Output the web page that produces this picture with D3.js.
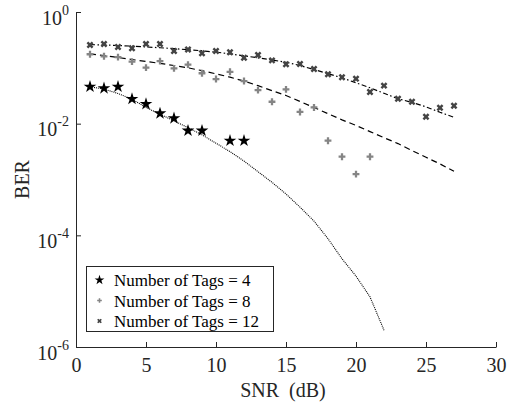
<!DOCTYPE html>
<html>
<head>
<meta charset="utf-8">
<script src="https://cdn.jsdelivr.net/npm/d3@7"></script>
<style>
  body { margin: 0; background: #fff; }
  svg { display: block; font-family: "Liberation Serif", "Times New Roman", serif; }
</style>
</head>
<body>
<svg id="chart"></svg>
<script>
// measured points
const snr4 = [1, 2, 3, 4, 5, 6, 7, 8, 9, 11, 12];
const ber4 = [0.0459, 0.043, 0.0459, 0.0277, 0.0225, 0.0153, 0.0125, 0.0075, 0.0075, 0.00495, 0.00495];

const snr8 = [1, 2, 3, 4, 5, 6, 7, 8, 9, 10, 11, 12, 13, 14, 15, 16, 17, 18, 19, 20, 21];
const ber8 = [0.175, 0.161, 0.156, 0.129, 0.101, 0.132, 0.098, 0.114, 0.080, 0.063, 0.085,
  0.058, 0.040, 0.0247, 0.041, 0.0162, 0.0195, 0.00495, 0.00256, 0.00125, 0.00256];

const snr12 = [1, 2, 3, 4, 5, 6, 7, 8, 9, 10, 11, 12, 13, 14, 15, 16, 17, 18, 19, 20, 21, 22, 23, 24, 25, 26, 27];
const ber12 = [0.256, 0.267, 0.236, 0.224, 0.267, 0.267, 0.200, 0.213, 0.182, 0.200, 0.190,
  0.152, 0.170, 0.136, 0.116, 0.117, 0.095, 0.077, 0.068, 0.064, 0.037, 0.048, 0.028,
  0.0247, 0.0133, 0.0193, 0.021];

// fitted / theory curves
const curveSnr4 = [1, 2, 3, 4, 5, 6, 7, 8, 9, 10, 11, 12, 13, 14, 15, 16, 17, 18, 19, 20, 21, 22];
const curveBer4 = [0.0457, 0.0417, 0.0347, 0.0275, 0.0195, 0.0148, 0.0112, 0.0085, 0.0063, 0.00447,
  0.00316, 0.00214, 0.00138, 8.9e-4, 5.5e-4, 3.2e-4, 1.8e-4, 8.7e-5, 3.8e-5, 1.86e-5, 7.9e-6, 2.0e-6];

const curveSnr8 = [1, 2, 3, 4, 5, 6, 7, 8, 9, 10, 11, 12, 13, 14, 15, 16, 17, 18, 19, 20, 21, 22, 23, 24, 25, 26, 27];
const curveBer8 = [0.178, 0.166, 0.153, 0.141, 0.130, 0.120, 0.110, 0.100, 0.089, 0.078, 0.068, 0.058,
  0.048, 0.039, 0.032, 0.025, 0.0195, 0.0151, 0.0117, 0.0093, 0.0072, 0.0056, 0.0044, 0.0033,
  0.0025, 0.0019, 0.0014];

const curveSnr12 = [1, 2, 3, 4, 5, 6, 7, 8, 9, 10, 11, 12, 13, 14, 15, 16, 17, 18, 19, 20, 21, 22, 23, 24, 25, 26, 27];
const curveBer12 = [0.260, 0.257, 0.251, 0.245, 0.237, 0.229, 0.221, 0.211, 0.202, 0.191, 0.178, 0.164,
  0.151, 0.138, 0.126, 0.110, 0.093, 0.079, 0.066, 0.054, 0.044, 0.035, 0.028, 0.024,
  0.020, 0.016, 0.013];

const legendLabels = ['Number of Tags = 4', 'Number of Tags = 8', 'Number of Tags = 12'];
const xTicks = [0, 5, 10, 15, 20, 25, 30];
const yTicks = [1, 1e-2, 1e-4, 1e-6];
const yTickExp = ['0', '-2', '-4', '-6'];

const width = 514, height = 404;
const margin = { top: 12, right: 18, bottom: 57, left: 76 };
const axisColor = '#262626';

const svg = d3.select('#chart').attr('width', width).attr('height', height);
svg.append('rect').attr('width', width).attr('height', height).attr('fill', '#fff');

const x = d3.scaleLinear().domain([0, 30]).range([margin.left, width - margin.right]);
const y = d3.scaleLog().domain([1e-6, 1]).range([height - margin.bottom, margin.top]);

// axes (ticks point inward, no box)
const xAxis = svg.append('g')
  .attr('transform', `translate(0,${height - margin.bottom})`)
  .call(d3.axisBottom(x).tickValues(xTicks).tickSizeInner(-5).tickSizeOuter(0).tickFormat(d3.format('d')));
xAxis.select('.domain').attr('stroke', axisColor);
xAxis.selectAll('.tick line').attr('stroke', axisColor);
xAxis.selectAll('.tick text')
  .attr('y', 25).attr('dy', null)
  .attr('fill', axisColor)
  .style('font-size', '20px')
  .style('font-family', '"Liberation Serif", serif');

const yAxis = svg.append('g')
  .attr('transform', `translate(${margin.left},0)`)
  .call(d3.axisLeft(y).tickValues(yTicks).tickSizeInner(-5).tickSizeOuter(0).tickFormat(''));
yAxis.select('.domain').attr('stroke', axisColor);
yAxis.selectAll('.tick line').attr('stroke', axisColor);
yAxis.selectAll('.tick text').remove();

yTicks.forEach((t, i) => {
  const label = svg.append('text')
    .attr('x', margin.left - 7)
    .attr('y', y(t) + 12.5)
    .attr('text-anchor', 'end')
    .attr('fill', axisColor)
    .style('font-size', '20px');
  label.append('tspan').text('10');
  label.append('tspan')
    .attr('dy', -10)
    .style('font-size', '14px')
    .text(yTickExp[i]);
});

svg.append('text')
  .attr('x', (margin.left + width - margin.right) / 2 - 3)
  .attr('y', 397)
  .attr('text-anchor', 'middle')
  .attr('fill', axisColor)
  .style('font-size', '20px')
  .style('white-space', 'pre')
  .text('SNR\u00a0 (dB)');

svg.append('text')
  .attr('transform', `translate(29,${(margin.top + height - margin.bottom) / 2}) rotate(-90)`)
  .attr('text-anchor', 'middle')
  .attr('fill', axisColor)
  .style('font-size', '20px')
  .text('BER');

// curves
const line = d3.line().x(d => x(d[0])).y(d => y(d[1]));

svg.append('path')
  .datum(d3.zip(curveSnr4, curveBer4))
  .attr('d', line)
  .attr('fill', 'none').attr('stroke', '#000').attr('stroke-width', 1.1)
  .attr('stroke-dasharray', '1,1');

svg.append('path')
  .datum(d3.zip(curveSnr8, curveBer8))
  .attr('d', line)
  .attr('fill', 'none').attr('stroke', '#000').attr('stroke-width', 1.2)
  .attr('stroke-dasharray', '6,4');

svg.append('path')
  .datum(d3.zip(curveSnr12, curveBer12))
  .attr('d', line)
  .attr('fill', 'none').attr('stroke', '#000').attr('stroke-width', 1.2)
  .attr('stroke-dasharray', '5,2.5,1.5,2.5');

// markers
const star = d3.symbol().type(d3.symbolStar);
const cross = d3.symbol().type(d3.symbolCross);

svg.append('g').selectAll('path')
  .data(d3.zip(snr4, ber4))
  .join('path')
  .attr('transform', d => `translate(${x(d[0])},${y(d[1])})`)
  .attr('d', star.size(50))
  .attr('fill', '#000');

svg.append('g').selectAll('path')
  .data(d3.zip(snr8, ber8))
  .join('path')
  .attr('transform', d => `translate(${x(d[0])},${y(d[1])})`)
  .attr('d', cross.size(26))
  .attr('fill', '#858585');

svg.append('g').selectAll('path')
  .data(d3.zip(snr12, ber12))
  .join('path')
  .attr('transform', d => `translate(${x(d[0])},${y(d[1])}) rotate(45)`)
  .attr('d', cross.size(30))
  .attr('fill', '#444');

// legend
const legend = svg.append('g');
legend.append('rect')
  .attr('x', 86.5).attr('y', 266.5)
  .attr('width', 187).attr('height', 65)
  .attr('fill', '#fff').attr('stroke', axisColor).attr('stroke-width', 1);

const legendMarks = [
  { type: d3.symbolStar, size: 30, fill: '#000', rot: 0 },
  { type: d3.symbolCross, size: 12, fill: '#858585', rot: 0 },
  { type: d3.symbolCross, size: 14, fill: '#444', rot: 45 }
];

legendLabels.forEach((lab, i) => {
  const cy = 280 + i * 20.5;
  legend.append('path')
    .attr('transform', `translate(99.5,${cy}) rotate(${legendMarks[i].rot})`)
    .attr('d', d3.symbol().type(legendMarks[i].type).size(legendMarks[i].size)())
    .attr('fill', legendMarks[i].fill);
  legend.append('text')
    .attr('x', 114)
    .attr('y', cy + 6)
    .attr('fill', '#000')
    .style('font-size', '17px')
    .text(lab);
});
</script>
</body>
</html>
